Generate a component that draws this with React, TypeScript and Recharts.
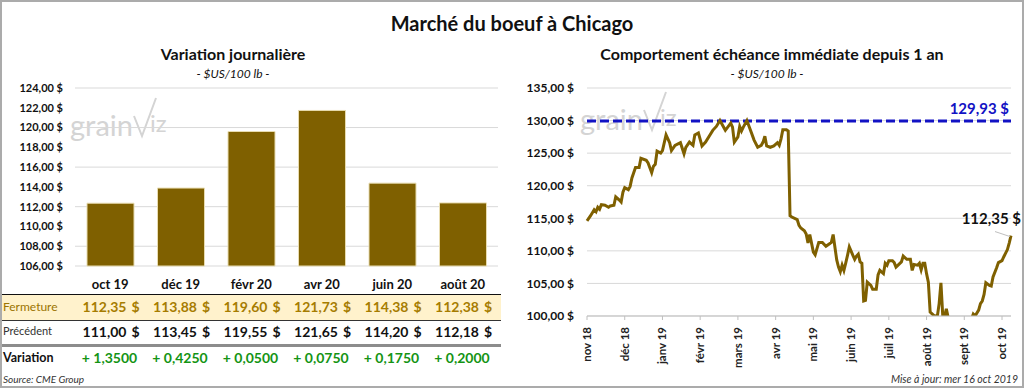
import React from "react"
import {
  BarChart,
  Bar,
  LineChart,
  Line,
  XAxis,
  YAxis,
  CartesianGrid,
  ReferenceLine,
  LabelList,
} from "recharts"

// contrats (variation journalière)
const contracts = ["oct 19", "déc 19", "févr 20", "avr 20", "juin 20", "août 20"]
const closes = [112.35, 113.88, 119.6, 121.73, 114.38, 112.38]
const previous = [111.0, 113.45, 119.55, 121.65, 114.2, 112.18]
const variations = ["+ 1,3500", "+ 0,4250", "+ 0,0500", "+ 0,0750", "+ 0,1750", "+ 0,2000"]
const barTicks = [106, 108, 110, 112, 114, 116, 118, 120, 122, 124]

// échéance immédiate, séance par séance (index de séance)
const monthLabels = ["nov 18", "déc 18", "janv 19", "févr 19", "mars 19", "avr 19", "mai 19", "juin 19", "juil 19", "août 19", "sept 19", "oct 19"]
const monthTicks = [0, 21, 42, 63, 84, 105, 126, 147, 168, 189, 210, 231]
const sessionIdx = [
  0, 2, 4, 5, 6, 7, 8, 10, 12, 13, 15, 16, 18, 19, 20, 21, 23, 24, 25, 27,
  29, 30, 33, 34, 36, 37, 38, 39, 41, 42, 44, 46, 47, 49, 52, 54, 55, 57, 59, 60,
  62, 64, 66, 68, 70, 72, 74, 76, 77, 80, 81, 82, 84, 85, 86, 87, 89, 91, 93, 95,
  97, 98, 99, 100, 102, 104, 106, 107, 108, 109, 111, 112, 113, 114, 117, 118, 119, 121, 122, 123,
  124, 126, 127, 129, 131, 133, 135, 136, 137, 139, 140, 141, 142, 143, 144, 145, 146, 148, 149, 150,
  151, 152, 153, 154, 155, 156, 158, 159, 161, 162, 163, 165, 166, 167, 168, 170, 171, 172, 175, 176,
  178, 180, 181, 182, 184, 185, 186, 187, 188, 189, 190, 191, 193, 195, 196, 197, 198, 199, 200, 201,
  203, 205, 207, 209, 211, 213, 214, 215, 216, 218, 219, 220, 221, 222, 224, 225, 226, 228, 229, 231,
  232, 234, 235, 236,
]
const sessionPrice = [
  114.6, 115.4, 116.3, 116.0, 116.7, 116.4, 117.1, 117.0, 116.7, 116.9, 117.0, 118.3, 117.8, 117.5, 119.0, 119.7, 119.4, 119.9, 121.2, 122.8,
  122.8, 124.2, 123.9, 123.5, 122.0, 123.0, 123.3, 125.3, 125.0, 125.4, 127.8, 126.6, 125.4, 126.2, 126.6, 124.9, 125.9, 126.7, 126.2, 127.8,
  128.1, 126.1, 126.7, 127.6, 128.5, 129.1, 130.0, 129.0, 128.5, 129.6, 129.0, 126.7, 127.5, 129.1, 128.4, 129.0, 130.0, 128.5, 127.0, 125.9,
  126.2, 126.7, 127.6, 126.1, 125.9, 126.1, 126.6, 126.2, 127.2, 128.6, 128.6, 128.4, 115.4, 115.2, 114.8, 113.9, 113.5, 113.1, 112.6, 111.2,
  112.5, 109.8, 109.4, 111.3, 111.3, 110.7, 111.1, 111.3, 112.5, 108.6, 107.5, 106.8, 107.8, 107.0, 108.1, 109.3, 110.6, 109.3, 108.7, 109.2,
  109.5, 108.3, 108.1, 102.3, 102.4, 105.2, 104.7, 104.1, 104.1, 106.3, 107.0, 106.5, 108.1, 107.8, 108.5, 108.5, 108.2, 107.5, 108.3, 109.2,
  108.7, 108.7, 107.0, 107.9, 107.8, 108.1, 107.1, 108.1, 108.1, 106.5, 105.2, 100.6, 100.1, 99.95, 101.9, 105.1, 100.1, 99.9, 101.1, 99.8,
  99.0, 98.2, 97.6, 97.9, 98.4, 99.0, 99.5, 100.3, 100.0, 100.9, 101.9, 102.3, 103.3, 105.1, 104.7, 104.6, 106.0, 107.4, 108.2, 108.5,
  109.1, 110.2, 111.2, 112.35,
]
const maxPrice = 129.93

const GOLD = "#7F6000"
const BLUE = "#1212C4"

const barData = contracts.map((c, i) => ({ contract: c, close: closes[i] }))
const lineData = sessionIdx.map((d, i) => ({ idx: d, price: sessionPrice[i] }))

const money = (v: number) => v.toFixed(2).replace(".", ",") + " $"

function Watermark({ left, top }: { left: number; top: number }) {
  return (
    <svg
      width={115}
      height={50}
      style={{ position: "absolute", left, top }}
    >
      <text x={0} y={42} fontSize={29} fill="#d4d4d4" fontFamily="Lato, sans-serif">
        grain
      </text>
      <polyline points="64,22 72,42 86,4" fill="none" stroke="#d4d4d4" strokeWidth={2} />
      <text x={80} y={38} fontSize={24} fill="#d4d4d4" fontFamily="Lato, sans-serif">
        iz
      </text>
    </svg>
  )
}

function MonthTick(props: any) {
  const { x, y, payload } = props
  const k = monthTicks.indexOf(payload.value)
  return (
    <text
      x={x}
      y={y}
      transform={`rotate(-90, ${x}, ${y})`}
      textAnchor="end"
      dy="0.35em"
      fontSize={11.5}
      fontWeight="bold"
      fill="#222"
    >
      {monthLabels[k]}
    </text>
  )
}

function MaxLabel(props: any) {
  const { viewBox } = props
  return (
    <text
      x={viewBox.x + viewBox.width - 2}
      y={viewBox.y - 7}
      textAnchor="end"
      fontSize={15}
      fontWeight="bold"
      fill={BLUE}
    >
      129,93 $
    </text>
  )
}

function LastLabel(props: any) {
  const { x, y, index } = props
  if (index !== lineData.length - 1) return null
  return (
    <g>
      <line x1={x - 16} y1={y - 4} x2={x - 1} y2={y + 1} stroke="#bfbfbf" strokeWidth={1} />
      <text x={x + 10} y={y - 12} textAnchor="end" fontSize={15} fontWeight="bold" fill="#111">
        112,35 $
      </text>
    </g>
  )
}

const colCenter = (i: number) => 110.5 + i * 70.5

export default function App() {
  return (
    <div
      style={{
        position: "absolute",
        left: 0,
        top: 0,
        width: 1024,
        height: 388,
        boxSizing: "border-box",
        border: "2px solid #ababab",
        background: "#fff",
        fontFamily: "Lato, sans-serif",
        color: "#111",
        overflow: "hidden",
      }}
    >
      <div style={{ position: "absolute", left: -2, top: 9, width: 1024, textAlign: "center", fontSize: 20, fontWeight: "bold" }}>
        Marché du boeuf à Chicago
      </div>

      {/* titres */}
      <div style={{ position: "absolute", left: 0, top: 42, width: 462, textAlign: "center", fontSize: 16, fontWeight: "bold" }}>
        Variation journalière
      </div>
      <div style={{ position: "absolute", left: 0, top: 64, width: 462, textAlign: "center", fontSize: 12, fontStyle: "italic" }}>
        - $US/100 lb -
      </div>
      <div style={{ position: "absolute", left: 530, top: 42, width: 480, textAlign: "center", fontSize: 16, fontWeight: "bold" }}>
        Comportement échéance immédiate depuis 1 an
      </div>
      <div style={{ position: "absolute", left: 530, top: 64, width: 470, textAlign: "center", fontSize: 12, fontStyle: "italic" }}>
        - $US/100 lb -
      </div>

      <Watermark left={68} top={92} />
      <Watermark left={578} top={86} />

      {/* graphique de gauche */}
      <div style={{ position: "absolute", left: -2, top: -2 }}>
        <BarChart
          width={512}
          height={300}
          data={barData}
          margin={{ top: 88, right: 14, left: 0, bottom: 4 }}
        >
          <CartesianGrid vertical={false} stroke="#d9d9d9" />
          <XAxis
            dataKey="contract"
            axisLine={false}
            tickLine={false}
            tickSize={0}
            tickMargin={14}
            height={30}
            tick={{ fontSize: 13, fontWeight: "bold", fill: "#111" }}
          />
          <YAxis
            domain={[106, 124]}
            ticks={barTicks}
            width={75}
            axisLine={false}
            tickLine={false}
            tickSize={0}
            tickMargin={12}
            tickFormatter={money}
            tick={{ fontSize: 11, fontWeight: "bold", fill: "#111" }}
          />
          <Bar
            dataKey="close"
            fill={GOLD}
            stroke="#e8dcb0"
            strokeWidth={1}
            barSize={47}
            isAnimationActive={false}
          />
        </BarChart>
      </div>

      {/* tableau */}
      <div style={{ position: "absolute", left: -2, top: 292, width: 501, height: 25, background: "#FFF2CC", borderTop: "1.5px solid #111", borderBottom: "1px solid #333" }} />
      <div style={{ position: "absolute", left: -2, top: 342, width: 501, height: 0, borderTop: "3px solid #8c8c8c" }} />
      <div style={{ position: "absolute", left: 1, top: 297, fontSize: 12, color: "#9C7400" }}>Fermeture</div>
      <div style={{ position: "absolute", left: 1, top: 322, fontSize: 11, color: "#333" }}>Précédent</div>
      <div style={{ position: "absolute", left: 1, top: 348, fontSize: 12.5, fontWeight: "bold" }}>Variation</div>
      {contracts.map((c, i) => (
        <React.Fragment key={c}>
          <div style={{ position: "absolute", left: colCenter(i) - 51, top: 296, width: 65, textAlign: "right", fontSize: 14, fontWeight: "bold", color: "#A67C00" }}>
            {closes[i].toFixed(2).replace(".", ",")}
          </div>
          <div style={{ position: "absolute", left: colCenter(i) + 19, top: 296, fontSize: 14, fontWeight: "bold", color: "#A67C00" }}>$</div>
          <div style={{ position: "absolute", left: colCenter(i) - 51, top: 321, width: 65, textAlign: "right", fontSize: 14, fontWeight: "bold", color: "#111" }}>
            {previous[i].toFixed(2).replace(".", ",")}
          </div>
          <div style={{ position: "absolute", left: colCenter(i) + 19, top: 321, fontSize: 14, fontWeight: "bold", color: "#111" }}>$</div>
          <div style={{ position: "absolute", left: colCenter(i) - 45, top: 347, width: 84, textAlign: "center", fontSize: 14, fontWeight: "bold", color: "#149414" }}>
            {variations[i]}
          </div>
        </React.Fragment>
      ))}
      <div style={{ position: "absolute", left: 1, top: 371, fontSize: 10, fontStyle: "italic", color: "#333" }}>Source: CME Group</div>
      <div style={{ position: "absolute", right: 4, top: 371, fontSize: 10.5, fontStyle: "italic", color: "#333" }}>Mise à jour: mer 16 oct 2019</div>

      {/* graphique de droite */}
      <div style={{ position: "absolute", left: 498, top: -2 }}>
        <LineChart
          width={526}
          height={380}
          data={lineData}
          margin={{ top: 88, right: 15, left: 0, bottom: 4 }}
        >
          <CartesianGrid vertical={false} stroke="#d9d9d9" />
          <XAxis
            dataKey="idx"
            type="number"
            domain={[0, 236]}
            ticks={monthTicks}
            interval={0}
            height={60}
            stroke="#bfbfbf"
            tickSize={4}
            tickMargin={7}
            tick={<MonthTick />}
          />
          <YAxis
            domain={[100, 135]}
            ticks={[100, 105, 110, 115, 120, 125, 130, 135]}
            allowDataOverflow
            width={87}
            axisLine={false}
            tickLine={false}
            tickSize={0}
            tickMargin={13}
            tickFormatter={money}
            tick={{ fontSize: 12, fontWeight: "bold", fill: "#111" }}
          />
          <ReferenceLine
            y={maxPrice}
            stroke={BLUE}
            strokeWidth={3}
            strokeDasharray="9 4"
            label={<MaxLabel />}
          />
          <Line
            dataKey="price"
            type="linear"
            stroke={GOLD}
            strokeWidth={3}
            dot={false}
            isAnimationActive={false}
          >
            <LabelList dataKey="price" content={<LastLabel />} />
          </Line>
        </LineChart>
      </div>
    </div>
  )
}
